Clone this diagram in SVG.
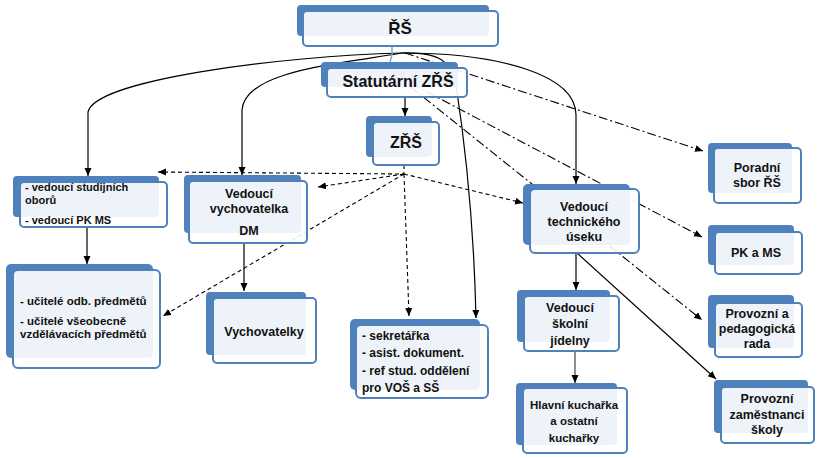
<svg xmlns="http://www.w3.org/2000/svg" width="818" height="458" viewBox="0 0 818 458">
<style>
.bk{fill:#4f81bd;}
.fr{fill:#ffffff;fill-opacity:0.9;stroke:#4f81bd;stroke-width:2;}
.t{font-family:"Liberation Sans",Arial,sans-serif;font-weight:bold;fill:#111;font-size:12.5px;}
.c{text-anchor:middle;}
.big{font-size:16px;}
.s{fill:none;stroke:#000;stroke-width:1.2;}
.d{fill:none;stroke:#000;stroke-width:1.1;stroke-dasharray:4,3;}
.dd{fill:none;stroke:#000;stroke-width:1.1;stroke-dasharray:9,3,2,3;}
</style>
<defs>
<marker id="a" markerWidth="9" markerHeight="8" refX="8" refY="3.5" orient="auto" markerUnits="userSpaceOnUse">
<path d="M0,0 L8,3.5 L0,7 z" fill="#000"/>
</marker>
</defs>
<rect width="818" height="458" fill="#fff"/>
<g id="connectors">
<path class="s" d="M402,53 C280,56 95,80 88,112 L88,176" marker-end="url(#a)"/>
<path class="s" d="M402,53 C330,65 245,72 242,110 L242,175" marker-end="url(#a)"/>
<path class="s" d="M402,53 C500,53 576,75 576,115 L576,184" marker-end="url(#a)"/>
<path class="s" d="M402,53 C440,52 452,62 456,85 C466,150 474,230 476,318" marker-end="url(#a)"/>
<path class="s" d="M405,97 L405,116" marker-end="url(#a)"/>
<path class="s" d="M87,227 L87,264" marker-end="url(#a)"/>
<path class="s" d="M244,243 L244,291" marker-end="url(#a)"/>
<path class="s" d="M576,253 L576,290" marker-end="url(#a)"/>
<path class="s" d="M575,351 L575,383" style="stroke:#444" marker-end="url(#a)"/>
<path class="s" d="M577,253 L716,379" marker-end="url(#a)"/>
<path d="M392,46 L392,55 L390,62" fill="none" stroke="#7fa7d6" stroke-width="1.5"/>
<path class="d" d="M404,165 L404,174 L158,172" marker-end="url(#a)"/>
<path class="d" d="M404,174 L318,187" marker-end="url(#a)"/>
<path class="d" d="M404,174 L163,316" marker-end="url(#a)"/>
<path class="d" d="M404,174 L409,316" marker-end="url(#a)"/>
<path class="d" d="M404,174 L523,203" marker-end="url(#a)"/>
<path class="dd" d="M405,53 L703,151" marker-end="url(#a)"/>
<path class="dd" d="M397,76 L702,237" marker-end="url(#a)"/>
<path class="dd" d="M397,76 L702,320" marker-end="url(#a)"/>
</g>
<g id="rs">
<rect class="bk" x="297" y="5" width="192" height="31" rx="4"/>
<rect class="fr" x="303" y="11" width="195" height="35" rx="4"/>
<text class="t c" x="400" y="34" style="font-size:17px">ŘŠ</text>
</g>
<g id="statutarni">
<rect class="bk" x="321" y="62" width="137" height="25" rx="4"/>
<rect class="fr" x="327" y="68" width="140" height="29" rx="4"/>
<text class="t c big" x="398" y="87">Statutární ZŘŠ</text>
</g>
<g id="zrs">
<rect class="bk" x="366" y="116" width="66" height="41" rx="4"/>
<rect class="fr" x="373" y="122" width="66" height="43" rx="4"/>
<text class="t c big" x="406" y="148">ZŘŠ</text>
</g>
<g id="vedouci-oboru">
<rect class="bk" x="13" y="176" width="146" height="41" rx="4"/>
<rect class="fr" x="20" y="182" width="147" height="45" rx="4"/>
<text class="t" x="25" y="191" style="font-size:11px">- vedoucí studijních</text>
<text class="t" x="25" y="204" style="font-size:11px">oborů</text>
<text class="t" x="25" y="224" style="font-size:11px">- vedoucí PK MS</text>
</g>
<g id="ucitele">
<rect class="bk" x="6" y="264" width="147" height="94" rx="5"/>
<rect class="fr" x="13" y="270" width="147" height="98" rx="5"/>
<text class="t" x="20" y="305" style="font-size:11.5px">- učitelé odb. předmětů</text>
<text class="t" x="20" y="325" style="font-size:11.5px">- učitelé všeobecně</text>
<text class="t" x="20" y="338" style="font-size:11.5px">vzdělávacích  předmětů</text>
</g>
<g id="vedouci-vychovatelka">
<rect class="bk" x="184" y="175" width="117" height="58" rx="4"/>
<rect class="fr" x="189" y="181" width="118" height="62" rx="4"/>
<text class="t c" x="249" y="198">Vedoucí</text>
<text class="t c" x="249" y="213">vychovatelka</text>
<text class="t c" x="249" y="235">DM</text>
</g>
<g id="vychovatelky">
<rect class="bk" x="206" y="292" width="100" height="63" rx="4"/>
<rect class="fr" x="213" y="298" width="103" height="65" rx="4"/>
<text class="t c" x="264" y="336">Vychovatelky</text>
</g>
<g id="sekretarka">
<rect class="bk" x="350" y="319" width="130" height="71" rx="5"/>
<rect class="fr" x="356" y="325" width="132" height="73" rx="5"/>
<text class="t" x="362" y="340" style="font-size:12px">- sekretářka</text>
<text class="t" x="362" y="357" style="font-size:12px">- asist. dokument.</text>
<text class="t" x="362" y="375" style="font-size:12px">- ref stud. oddělení</text>
<text class="t" x="362" y="392" style="font-size:12px">pro  VOŠ a SŠ</text>
</g>
<g id="vedouci-technickeho">
<rect class="bk" x="523" y="184" width="107" height="61" rx="5"/>
<rect class="fr" x="530" y="189" width="109" height="64" rx="5"/>
<text class="t c" x="584" y="211">Vedoucí</text>
<text class="t c" x="584" y="226">technického</text>
<text class="t c" x="584" y="241">úseku</text>
</g>
<g id="poradni">
<rect class="bk" x="708" y="143" width="84" height="50" rx="4"/>
<rect class="fr" x="714" y="148" width="87" height="55" rx="4"/>
<text class="t c" x="757" y="172">Poradní</text>
<text class="t c" x="757" y="187">sbor ŘŠ</text>
</g>
<g id="pk-ms">
<rect class="bk" x="708" y="225" width="86" height="40" rx="4"/>
<rect class="fr" x="715" y="232" width="87" height="42" rx="4"/>
<text class="t c" x="756" y="257">PK a MS</text>
</g>
<g id="provozni-rada">
<rect class="bk" x="708" y="295" width="86" height="53" rx="4"/>
<rect class="fr" x="715" y="303" width="87" height="54" rx="4"/>
<text class="t c" x="757" y="318">Provozní a</text>
<text class="t c" x="757" y="333">pedagogická</text>
<text class="t c" x="757" y="348">rada</text>
</g>
<g id="provozni-zamestnanci">
<rect class="bk" x="714" y="380" width="94" height="53" rx="4"/>
<rect class="fr" x="721" y="387" width="93" height="56" rx="4"/>
<text class="t c" x="767" y="403">Provozní</text>
<text class="t c" x="767" y="419">zaměstnanci</text>
<text class="t c" x="767" y="434">školy</text>
</g>
<g id="jidelna">
<rect class="bk" x="517" y="290" width="93" height="52" rx="4"/>
<rect class="fr" x="524" y="296" width="95" height="55" rx="4"/>
<text class="t c" x="570" y="312">Vedoucí</text>
<text class="t c" x="570" y="328">školní</text>
<text class="t c" x="570" y="345">jídelny</text>
</g>
<g id="kucharky">
<rect class="bk" x="516" y="383" width="101" height="62" rx="4"/>
<rect class="fr" x="523" y="388" width="104" height="65" rx="4"/>
<text class="t c" x="574" y="409" style="font-size:11.5px">Hlavní kuchařka</text>
<text class="t c" x="574" y="425" style="font-size:11.5px">a ostatní</text>
<text class="t c" x="574" y="442" style="font-size:11.5px">kuchařky</text>
</g>
</svg>
